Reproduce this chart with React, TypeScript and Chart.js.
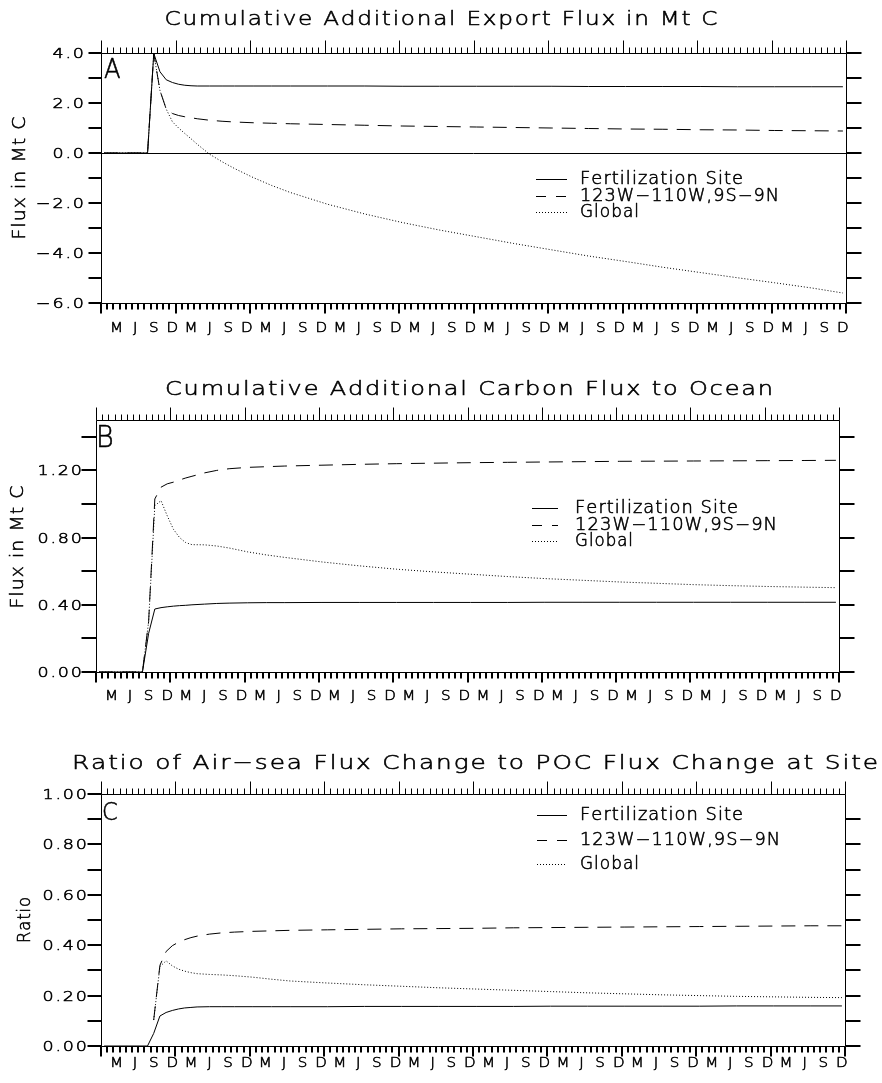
import { useEffect, useRef } from 'react';
import { Chart, registerables } from 'chart.js';
Chart.register(...registerables);

// ---------------- data ----------------
// month index from Jan 1 of year 1 (mid-month samples)
const months = [0.5, 7.5, 8.5, 9.5, 10.5, 11.5, 12.5, 13.5, 14.5, 15.5, 17.5, 19.5, 21.5, 24.5, 27.5, 30.5, 36.5, 42.5, 48.5, 54.5, 60.5, 66.5, 72.5, 78.5, 84.5, 90.5, 96.5, 102.5, 108.5, 114.5, 119.5];

// Panel A: cumulative additional export flux (Mt C)
const exportSite = [0, 0, 3.98, 3.25, 2.93, 2.82, 2.75, 2.71, 2.69, 2.68, 2.68, 2.68, 2.68, 2.68, 2.68, 2.68, 2.68, 2.68, 2.67, 2.67, 2.67, 2.67, 2.67, 2.66, 2.66, 2.66, 2.66, 2.65, 2.65, 2.65, 2.65];
const exportRegion = [0, 0, 3.98, 2.5, 1.76, 1.58, 1.5, 1.45, 1.41, 1.37, 1.31, 1.27, 1.24, 1.21, 1.19, 1.17, 1.14, 1.11, 1.08, 1.06, 1.04, 1.02, 1.0, 0.98, 0.96, 0.95, 0.93, 0.92, 0.9, 0.89, 0.88];
const exportGlobal = [0, 0, 3.98, 2.5, 1.76, 1.25, 1.0, 0.78, 0.57, 0.35, -0.05, -0.35, -0.62, -0.98, -1.3, -1.58, -2.05, -2.44, -2.78, -3.08, -3.35, -3.62, -3.87, -4.12, -4.34, -4.57, -4.78, -4.99, -5.19, -5.4, -5.6];

// Panel B: cumulative additional carbon flux to ocean (Mt C)
const oceanSite = [0, 0, 0.23, 0.375, 0.383, 0.388, 0.392, 0.395, 0.397, 0.4, 0.404, 0.408, 0.41, 0.412, 0.413, 0.413, 0.414, 0.414, 0.414, 0.414, 0.414, 0.414, 0.415, 0.415, 0.415, 0.415, 0.415, 0.415, 0.415, 0.415, 0.415];
const oceanRegion = [0, 0, 0.3, 1.03, 1.1, 1.12, 1.13, 1.143, 1.155, 1.165, 1.185, 1.2, 1.21, 1.218, 1.222, 1.226, 1.231, 1.236, 1.24, 1.243, 1.246, 1.248, 1.25, 1.252, 1.254, 1.255, 1.256, 1.257, 1.258, 1.259, 1.26];
const oceanGlobal = [0, 0, 0.3, 0.99, 1.02, 0.93, 0.85, 0.8, 0.77, 0.758, 0.757, 0.75, 0.738, 0.715, 0.697, 0.682, 0.655, 0.632, 0.612, 0.596, 0.582, 0.568, 0.556, 0.546, 0.536, 0.528, 0.52, 0.514, 0.509, 0.505, 0.502];

// Panel C: ratio of air-sea flux change to POC flux change at site
const ratioSite = [0, 0, 0.05, 0.119, 0.133, 0.141, 0.147, 0.151, 0.153, 0.155, 0.156, 0.156, 0.156, 0.156, 0.156, 0.156, 0.156, 0.157, 0.157, 0.157, 0.157, 0.157, 0.158, 0.158, 0.158, 0.158, 0.158, 0.159, 0.159, 0.159, 0.159];
const ratioRegion = [null, null, 0.103, 0.32, 0.375, 0.398, 0.412, 0.422, 0.43, 0.436, 0.444, 0.449, 0.452, 0.455, 0.457, 0.459, 0.461, 0.463, 0.465, 0.466, 0.467, 0.469, 0.47, 0.471, 0.472, 0.473, 0.474, 0.475, 0.476, 0.477, 0.477];
const ratioGlobal = [null, null, 0.103, 0.315, 0.338, 0.318, 0.305, 0.297, 0.291, 0.287, 0.284, 0.282, 0.279, 0.273, 0.265, 0.258, 0.25, 0.243, 0.237, 0.231, 0.226, 0.221, 0.216, 0.211, 0.207, 0.203, 0.2, 0.197, 0.195, 0.193, 0.192];

const monthLetters = ['M', 'J', 'S', 'D'];
const monthCenters = [2.5, 5.5, 8.5, 11.5];
const yearCount = 10;
const legendNames = ['Fertilization Site', '123W\u2212110W,9S\u22129N', 'Global'];
const titles = [
  'Cumulative Additional Export Flux in Mt C',
  'Cumulative Additional Carbon Flux to Ocean',
  'Ratio of Air\u2212sea Flux Change to POC Flux Change at Site',
];
const yTitles = ['Flux in Mt C', 'Flux in Mt C', 'Ratio'];
const panelLetters = ['A', 'B', 'C'];

// ---------------- layout ----------------
const FONT = '"DejaVu Sans", sans-serif';
const DASH = [14, 9];
const DOT = [1, 2];

type Panel = {
  top: number; height: number;
  pad: { left: number; right: number; top: number; bottom: number };
  yMin: number; yMax: number; yStep: number; labelEvery: number; decimals: number;
  labelRight: number; tickLen: number; skipRightTop: boolean;
  series: (number | null)[][];
  title: string; titleX: number; titleBase: number; titleW: number;
  yTitle: string; yTitleBase: number; yTitleC: number; yTitleW: number;
  letter: string; letterX: number; letterBase: number; letterSize: number;
  monthBase: number;
  legX0: number; legX1: number; legTextX: number; legBase: number; legStep: number;
  legW: number[];
  zeroLine: boolean;
};

const panels: Panel[] = [
  {
    top: 0, height: 355, pad: { left: 101, right: 36, top: 53, bottom: 52 },
    yMin: -6, yMax: 4, yStep: 1, labelEvery: 2, decimals: 1,
    labelRight: 84, tickLen: 13, skipRightTop: false,
    series: [exportSite, exportRegion, exportGlobal],
    title: titles[0], titleX: 441, titleBase: 25, titleW: 553,
    yTitle: yTitles[0], yTitleBase: 25, yTitleC: 178, yTitleW: 123,
    letter: panelLetters[0], letterX: 104, letterBase: 78, letterSize: 27,
    monthBase: 332,
    legX0: 536, legX1: 567, legTextX: 580, legBase: 184, legStep: 16.5,
    legW: [163, 199, 59],
    zeroLine: true,
  },
  {
    top: 360, height: 360, pad: { left: 96, right: 43, top: 60, bottom: 48 },
    yMin: 0, yMax: 1.5, yStep: 0.2, labelEvery: 2, decimals: 2,
    labelRight: 82, tickLen: 15, skipRightTop: false,
    series: [oceanSite, oceanRegion, oceanGlobal],
    title: titles[1], titleX: 469, titleBase: 395, titleW: 608,
    yTitle: yTitles[1], yTitleBase: 23, yTitleC: 547, yTitleW: 123,
    letter: panelLetters[1], letterX: 96, letterBase: 447, letterSize: 30,
    monthBase: 700,
    legX0: 532, legX1: 558, legTextX: 575, legBase: 513, legStep: 16.5,
    legW: [163, 202, 58],
    zeroLine: false,
  },
  {
    top: 725, height: 358, pad: { left: 101, right: 37, top: 69, bottom: 37 },
    yMin: 0, yMax: 1.0, yStep: 0.1, labelEvery: 2, decimals: 2,
    labelRight: 87, tickLen: 14, skipRightTop: true,
    series: [ratioSite, ratioRegion, ratioGlobal],
    title: titles[2], titleX: 475, titleBase: 769, titleW: 806,
    yTitle: yTitles[2], yTitleBase: 30, yTitleC: 920, yTitleW: 46,
    letter: panelLetters[2], letterX: 102, letterBase: 820, letterSize: 25,
    monthBase: 1067,
    legX0: 537, legX1: 567, legTextX: 580, legBase: 820, legStep: 24.5,
    legW: [163, 200, 59],
    zeroLine: false,
  },
];

function setFont(ctx: CanvasRenderingContext2D, size: number) {
  ctx.font = `200 ${size}px ${FONT}`;
}

// draws text char by char with a base spacing, horizontally stretched by sx
function drawText(ctx: CanvasRenderingContext2D, text: string, x: number, y: number, spacing: number, sx: number, align: string) {
  const chars = Array.from(text);
  const ws = chars.map((c) => ctx.measureText(c).width);
  const total = (ws.reduce((s, w) => s + w, 0) + spacing * (chars.length - 1)) * sx;
  const x0 = align === 'center' ? x - total / 2 : align === 'right' ? x - total : x;
  ctx.save();
  ctx.translate(x0, y);
  ctx.scale(sx, 1);
  ctx.textAlign = 'left';
  ctx.lineWidth = 0.55;
  ctx.lineJoin = 'round';
  let cx = 0;
  chars.forEach((c, i) => {
    ctx.fillText(c, cx, 0);
    ctx.strokeText(c, cx, 0);
    cx += ws[i] + spacing;
  });
  ctx.restore();
}

function drawFit(ctx: CanvasRenderingContext2D, text: string, x: number, y: number, width: number, spacing: number, align: string) {
  const chars = Array.from(text);
  const nat = chars.reduce((s, c) => s + ctx.measureText(c).width, 0) + spacing * (chars.length - 1);
  drawText(ctx, text, x, y, spacing, width / nat, align);
}

function fmt(v: number, d: number) {
  const s = v.toFixed(d);
  return s.startsWith('-') ? '\u2212' + s.slice(1) : s;
}

function decor(p: Panel) {
  return {
    id: 'decor',
    beforeDatasetsDraw(chart: any) {
      if (!p.zeroLine) return;
      const { ctx, chartArea: a } = chart;
      const py = Math.round(chart.scales.y.getPixelForValue(0)) + 0.5;
      ctx.save();
      ctx.strokeStyle = '#000';
      ctx.lineWidth = 1;
      ctx.beginPath();
      ctx.moveTo(a.left, py);
      ctx.lineTo(a.right, py);
      ctx.stroke();
      ctx.restore();
    },
    afterDraw(chart: any) {
      const { ctx, chartArea: a } = chart;
      const xs = chart.scales.x;
      const ys = chart.scales.y;
      const T = p.top;
      const L = Math.round(a.left) + 0.5;
      const R = Math.round(a.right) + 0.5;
      const Tp = Math.round(a.top) + 0.5;
      const B = Math.round(a.bottom) + 0.5;
      ctx.save();
      ctx.strokeStyle = '#000';
      ctx.fillStyle = '#000';
      ctx.setLineDash([]);
      ctx.textBaseline = 'alphabetic';

      // frame + top ticks
      ctx.lineWidth = 1;
      ctx.beginPath();
      ctx.rect(L, Tp, R - L, B - Tp);
      for (let m = 0; m <= 120; m++) {
        const px = Math.round(xs.getPixelForValue(m)) + 0.5;
        const major = m % 12 === 0;
        ctx.moveTo(px, Tp);
        ctx.lineTo(px, Tp - (major ? 13 : 6));
      }
      ctx.stroke();

      // bottom ticks
      ctx.lineWidth = 2;
      ctx.beginPath();
      for (let m = 0; m <= 120; m++) {
        const px = Math.round(xs.getPixelForValue(m));
        const major = m % 12 === 0;
        ctx.moveTo(px, B);
        ctx.lineTo(px, B + (major ? 10 : 6));
      }
      ctx.stroke();

      // y ticks
      const n = Math.floor((p.yMax - p.yMin) / p.yStep + 1e-6);
      ctx.lineWidth = 2;
      ctx.beginPath();
      for (let i = 0; i <= n; i++) {
        const v = p.yMin + i * p.yStep;
        const py = Math.round(ys.getPixelForValue(v));
        ctx.moveTo(L - p.tickLen, py);
        ctx.lineTo(L, py);
        if (!(p.skipRightTop && i === n)) {
          ctx.moveTo(R, py);
          ctx.lineTo(R + 15, py);
        }
      }
      ctx.stroke();

      // y labels
      setFont(ctx, 14);
      for (let i = 0; i <= n; i += p.labelEvery) {
        const v = p.yMin + i * p.yStep;
        const py = ys.getPixelForValue(v);
        drawText(ctx, fmt(v, p.decimals), p.labelRight, py + 5, 1.5, 1.25, 'right');
      }

      // month labels
      setFont(ctx, 14);
      for (let yr = 0; yr < yearCount; yr++) {
        monthCenters.forEach((c, k) => {
          const px = xs.getPixelForValue(yr * 12 + c);
          drawText(ctx, monthLetters[k], px, p.monthBase - T, 0, 1.08, 'center');
        });
      }

      // title
      setFont(ctx, 20);
      drawFit(ctx, p.title, p.titleX, p.titleBase - T, p.titleW, 1.5, 'center');

      // y title
      setFont(ctx, 18);
      ctx.save();
      ctx.translate(p.yTitleBase, p.yTitleC - T);
      ctx.rotate(-Math.PI / 2);
      drawFit(ctx, p.yTitle, 0, 0, p.yTitleW, 1, 'center');
      ctx.restore();

      // panel letter
      setFont(ctx, p.letterSize);
      drawText(ctx, p.letter, p.letterX, p.letterBase - T, 0, 0.9, 'left');

      // legend
      const dashes = [[], [10, 10], DOT];
      legendNames.forEach((name, k) => {
        const base = p.legBase + k * p.legStep - T;
        const sy = Math.round(base - 5) + 0.5;
        ctx.lineWidth = 1;
        ctx.setLineDash(dashes[k]);
        ctx.beginPath();
        ctx.moveTo(p.legX0, sy);
        ctx.lineTo(p.legX1, sy);
        ctx.stroke();
        ctx.setLineDash([]);
        setFont(ctx, 17);
        drawFit(ctx, name, p.legTextX, base, p.legW[k], 1, 'left');
      });
      ctx.restore();
    },
  };
}

function makeConfig(p: Panel): any {
  const dashes = [[], DASH, DOT];
  return {
    type: 'line',
    data: {
      datasets: p.series.map((vals, k) => ({
        label: legendNames[k],
        data: months.map((m, i) => ({ x: m, y: vals[i] })),
        borderColor: '#000',
        borderWidth: 1,
        borderDash: dashes[k],
        pointRadius: 0,
        tension: 0,
        fill: false,
        spanGaps: false,
      })),
    },
    options: {
      responsive: false,
      animation: false,
      events: [],
      layout: { padding: p.pad },
      scales: {
        x: { type: 'linear', min: 0, max: 120, display: false },
        y: { type: 'linear', min: p.yMin, max: p.yMax, display: false },
      },
      plugins: {
        legend: { display: false },
        title: { display: false },
        tooltip: { enabled: false },
      },
    },
    plugins: [decor(p)],
  };
}

export default function App() {
  const refs = [useRef<HTMLCanvasElement>(null), useRef<HTMLCanvasElement>(null), useRef<HTMLCanvasElement>(null)];
  useEffect(() => {
    const charts = panels.map((p, i) => new Chart(refs[i].current as HTMLCanvasElement, makeConfig(p)));
    return () => charts.forEach((c) => c.destroy());
  }, []);
  return (
    <div style={{ position: 'absolute', left: 0, top: 0, width: 882, height: 1083, background: '#fff', overflow: 'hidden' }}>
      {panels.map((p, i) => (
        <canvas
          key={i}
          ref={refs[i]}
          width={882}
          height={p.height}
          style={{ position: 'absolute', left: 0, top: p.top, width: 882, height: p.height }}
        />
      ))}
    </div>
  );
}
